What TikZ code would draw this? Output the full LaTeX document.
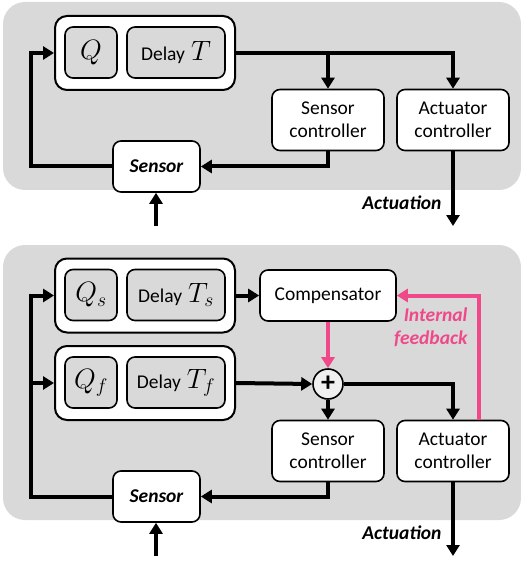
\RequirePackage{fix-cm}
\documentclass[tikz,border=0pt]{standalone}
\usepackage{fontspec}
\setmainfont{Carlito}
\usetikzlibrary{arrows.meta}

\definecolor{panelgray}{RGB}{217,217,217}
\definecolor{sumgray}{RGB}{240,240,240}
\definecolor{fbpink}{RGB}{240,73,138}
\newcommand{\txtsz}{\fontsize{19.5}{23}\selectfont}
\newcommand{\mathsz}{\fontsize{28}{30}\selectfont}

\tikzset{
	outerbox/.style={draw, line width=2pt, rounded corners=12pt, fill=white, minimum width=180pt, minimum height=74pt},
	innerbox/.style={draw, line width=1.6pt, rounded corners=8pt, fill=panelgray, minimum height=51pt, inner sep=0pt},
	ctrlbox/.style={draw, line width=1.6pt, rounded corners=8pt, fill=white, align=center, minimum width=112pt, minimum height=61pt, font=\txtsz},
	sensbox/.style={draw, line width=1.6pt, rounded corners=8pt, fill=white, minimum width=87pt, minimum height=51pt, font=\txtsz\bfseries\itshape},
	wire/.style={line width=4pt, -{Triangle[length=11pt,width=13pt]}},
	pinkwire/.style={wire, draw=fbpink},
}

\begin{document}
\begin{tikzpicture}[x=1pt, y=-1pt]
	\useasboundingbox (0,0) rectangle (520,561);
	% Panels:
	\fill[panelgray, rounded corners=22pt] (3,2) rectangle (521,190);
	\fill[panelgray, rounded corners=22pt] (3,245) rectangle (521,520);

	% Upper loop:
	\node[outerbox] (qt) at (145,53){};
	\node[innerbox, minimum width=52pt] (q) at (91,52.5){\mathsz$Q$};
	\node[innerbox, minimum width=98pt] (dt) at (176,52.5){\txtsz Delay\hspace{6pt}\mathsz$T$};
	\node[ctrlbox] (sctl) at (328,120){Sensor\\controller};
	\node[ctrlbox] (actl) at (453,120){Actuator\\controller};
	\node[sensbox] (sens) at (156.5,166.5){Sensor};
	\node[anchor=east, font=\txtsz\bfseries\itshape] (act) at (445,203){Actuation};
	\coordinate (sin) at (156,226);
	\coordinate (aout) at (453,226);
	\draw[wire] (qt.east) -| (actl.north);
	\draw[wire] (sctl.north |- qt.east) -- (sctl.north);
	\draw[wire] (sctl.south) |- (sens.east);
	\draw[wire] (sens.west) -| ([xshift=-23pt]qt.west) -- (qt.west);
	\draw[wire] (sin) -- (sin |- sens.south);
	\draw[wire] (actl.south) -- (aout);

	% Lower loop:
	\node[outerbox] (qst) at (145,295.5){};
	\node[innerbox, minimum width=52pt] (qs) at (91,295){\mathsz$Q_s$};
	\node[innerbox, minimum width=98pt] (dts) at (176,295){\txtsz Delay\hspace{6pt}\mathsz$T_s$};
	\node[outerbox] (qft) at (145,383){};
	\node[innerbox, minimum width=52pt] (qf) at (91,382.5){\mathsz$Q_f$};
	\node[innerbox, minimum width=98pt] (dtf) at (176,382.5){\txtsz Delay\hspace{6pt}\mathsz$T_f$};
	\node[ctrlbox, minimum width=136pt, minimum height=51pt] (comp) at (328,295.5){Compensator};
	\node[circle, draw, line width=1.6pt, fill=sumgray, minimum size=30pt, inner sep=0pt, font=\mathsz\bfseries] (sum) at (328,384){+};
	\node[ctrlbox] (sctl2) at (328,451){Sensor\\controller};
	\node[ctrlbox] (actl2) at (453,451){Actuator\\controller};
	\node[sensbox] (sens2) at (156.5,496.5){Sensor};
	\node[anchor=east, font=\txtsz\bfseries\itshape] (act2) at (445,533){Actuation};
	\node[anchor=east, align=right, text=fbpink, font=\txtsz\bfseries\itshape] (fb) at (471,327){Internal\\feedback};
	\coordinate (sin2) at (156,556);
	\coordinate (aout2) at (453,556);
	\draw[wire] (qst.east) -- (comp.west);
	\draw[pinkwire] (comp.south) -- (sum.north);
	\draw[wire] (qft.east) -- (sum.west);
	\draw[wire] (sum.east) -| (actl2.north);
	\draw[wire] (sum.south) -- (sctl2.north);
	\draw[pinkwire] ([xshift=26pt]actl2.north) |- (comp.east);
	\draw[wire] (sctl2.south) |- (sens2.east);
	\draw[wire] (sens2.west) -| ([xshift=-23pt]qst.west) -- (qst.west);
	\draw[wire] ([xshift=-23pt]qft.west) -- (qft.west);
	\draw[wire] (sin2) -- (sin2 |- sens2.south);
	\draw[wire] (actl2.south) -- (aout2);
\end{tikzpicture}
\end{document}
